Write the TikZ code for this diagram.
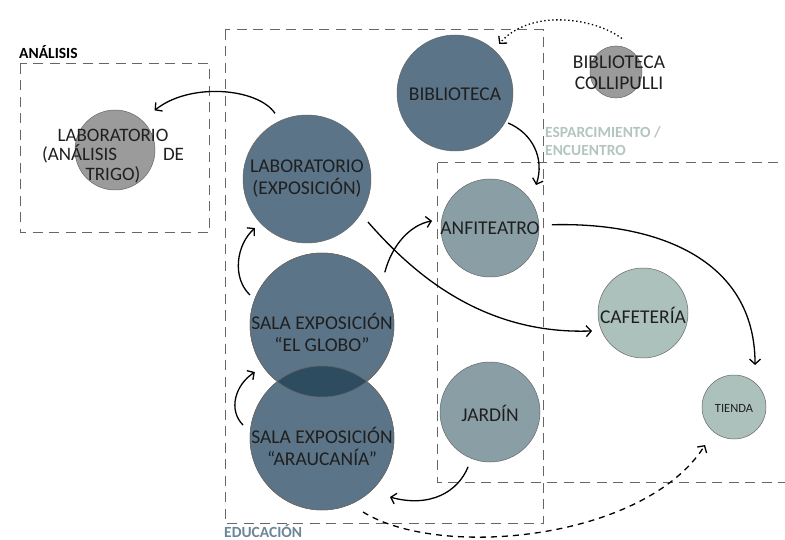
\documentclass[tikz,border=0pt]{standalone}
\usepackage{fontspec}
\setmainfont{Carlito}
\usetikzlibrary{arrows.meta,calc}
\definecolor{dblue}{HTML}{5B7488}
\definecolor{ovl}{HTML}{2D4C60}
\definecolor{mgray}{HTML}{8A9FA5}
\definecolor{lgreen}{HTML}{ADC1BC}
\definecolor{gray1}{HTML}{9B9B9B}
\definecolor{edublue}{HTML}{6B8698}
\definecolor{espgreen}{HTML}{B3C5C0}
\begin{document}
\begin{tikzpicture}[x=1pt,y=-1pt,
  circ/.style={circle,draw=black!60,line width=0.5pt,inner sep=0pt,minimum size=#1},
  lbl/.style={font=\fontsize{19.5}{22}\selectfont,text=black!88,align=center,inner sep=0pt},
  zlbl/.style={font=\fontsize{15.5}{18}\selectfont\bfseries,inner sep=0pt,align=left},
  zone/.style={draw=black!60,line width=1pt,dash pattern=on 10pt off 6.5pt},
  arr/.style={line width=1.3pt,-{Straight Barb[length=5pt,width=11pt]}},
]
\useasboundingbox (0,0) rectangle (785,540);

% zones
\draw[zone] (20,64) rectangle (209,233);
\draw[zone] (225,30) rectangle (543,523);
\draw[zone] (437,163) rectangle (800,482);
\node[zlbl,anchor=base west] (tanal) at (19,59) {ANÁLISIS};
\node[zlbl,anchor=base west,text=edublue] (tedu) at (224,537) {EDUCACIÓN};
\node[zlbl,anchor=north west,text=espgreen] (tesp) at (545,126) {ESPARCIMIENTO /\\ENCUENTRO};

% circles
\node[circ=80pt,fill=gray1] (laban) at (115,150) {};
\node[circ=128pt,fill=dblue] (labexp) at (307,179) {};
\node[circ=116pt,fill=dblue] (bib) at (455,93) {};
\node[circ=144pt,fill=dblue] (globo) at (322,325) {};
\node[circ=144pt,fill=dblue] (arauc) at (322,438) {};
\begin{scope}
  \clip (globo.center) circle (72pt);
  \fill[ovl] (arauc.center) circle (72pt);
\end{scope}
\draw[black!60,line width=0.5pt] (globo.center) circle (72pt);
\draw[black!60,line width=0.5pt] (arauc.center) circle (72pt);
\node[circ=98pt,fill=mgray] (anf) at (490,228) {};
\node[circ=100pt,fill=mgray] (jardin) at (490,412) {};
\node[circ=90pt,fill=lgreen] (caf) at (643,313) {};
\node[circ=64pt,fill=lgreen] (tienda) at (734,407) {};
\node[circ=52pt,fill=gray1] (coll) at (616,72) {};

% labels
\node[lbl,font=\fontsize{19}{19.5}\selectfont] (tlaban) at (113,156) {LABORATORIO\\\makebox[142pt][s]{(ANÁLISIS\hfill DE}\\TRIGO)};
\node[lbl] (tlabexp) at (307,179) {LABORATORIO\\(EXPOSICIÓN)};
\node[lbl] (tbib) at (455,94) {BIBLIOTECA};
\node[lbl] (tglobo) at (322,332) {SALA EXPOSICIÓN\\“EL GLOBO”};
\node[lbl] (tarauc) at (322,446) {SALA EXPOSICIÓN\\“ARAUCANÍA”};
\node[lbl] (tanf) at (490,228) {ANFITEATRO};
\node[lbl] (tjardin) at (490,413) {JARDÍN};
\node[lbl] (tcaf) at (643,315) {CAFETERÍA};
\node[lbl,font=\fontsize{12.5}{14}\selectfont] (ttienda) at (734,408) {TIENDA};
\node[lbl,font=\fontsize{19.5}{21}\selectfont] (tcoll) at (619,73) {BIBLIOTECA\\COLLIPULLI};

% connectors
\draw[arr] ([shift={(116:73pt)}]labexp.center) .. controls (258,88) and (190,82) .. ([shift={(45:56pt)}]laban.center);
\draw[arr] ([shift={(-29.5:61pt)}]bib.center) .. controls (532,133) and (545,158) .. ([shift={(43:63pt)}]anf.center);
\draw[arr,dash pattern=on 1.4pt off 2.6pt] ([shift={(80:34pt)}]coll.center) .. controls (595,18) and (530,8) .. ([shift={(48:66pt)}]bib.center);
\draw[arr] ([shift={(3:62pt)}]anf.center) .. controls (655,222) and (755,258) .. ([shift={(63.4:47pt)}]tienda.center);
\draw[arr] ([shift={(-35.2:74.6pt)}]labexp.center) .. controls (410,270) and (480,335) .. ([shift={(199.4:54pt)}]caf.center);
\draw[arr] ([shift={(40:82pt)}]globo.center) .. controls (392,245) and (410,225) .. ([shift={(173:58.4pt)}]anf.center);
\draw[arr] ([shift={(157.4:78pt)}]globo.center) .. controls (232,278) and (236,245) .. ([shift={(223.3:71.5pt)}]labexp.center);
\draw[arr] ([shift={(170.7:80pt)}]arauc.center) .. controls (228,410) and (235,385) .. ([shift={(215:82pt)}]globo.center);
\draw[arr] ([shift={(248.2:59pt)}]jardin.center) .. controls (458,492) and (430,508) .. ([shift={(-41:90pt)}]arauc.center);
\draw[arr,dash pattern=on 6pt off 5pt] ([shift={(-61:84.6pt)}]arauc.center) .. controls (440,560) and (645,540) .. ([shift={(232.7:47.8pt)}]tienda.center);
\end{tikzpicture}
\end{document}
